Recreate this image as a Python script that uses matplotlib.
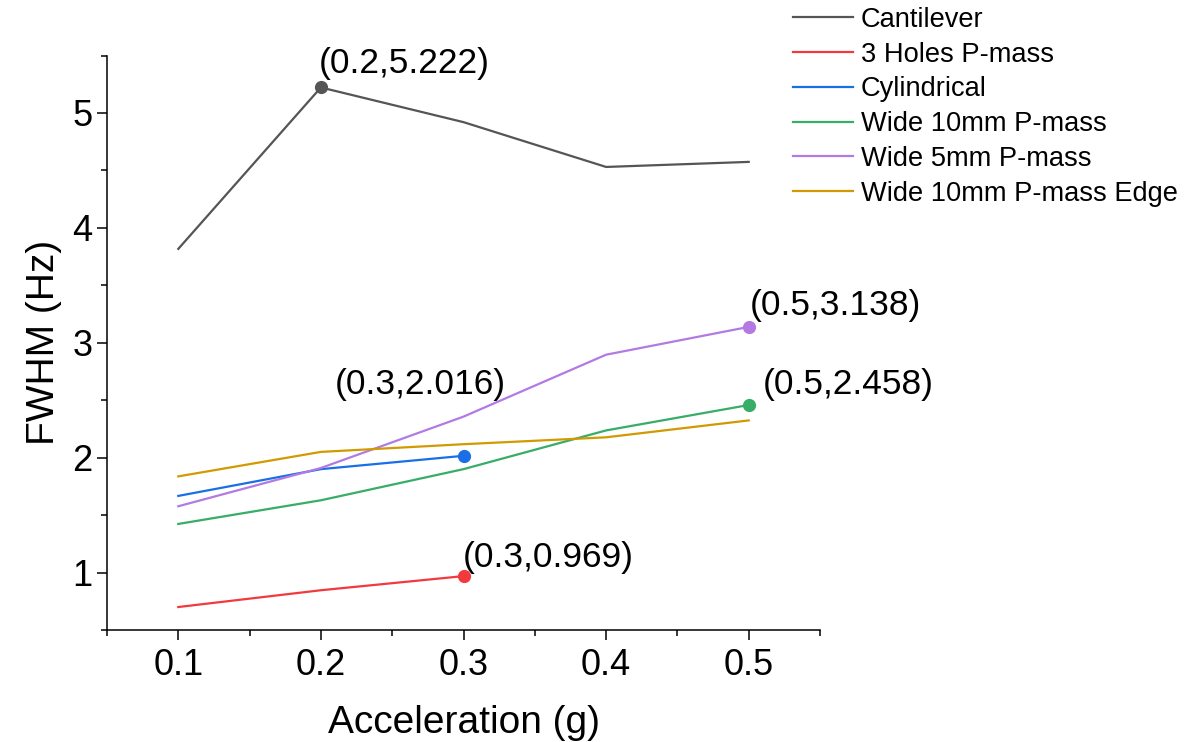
import matplotlib.pyplot as plt

plt.rcParams['font.family'] = ['Liberation Sans', 'DejaVu Sans']

accel = [0.1, 0.2, 0.3, 0.4, 0.5]
accel_short = [0.1, 0.2, 0.3]

cantilever = [3.817, 5.222, 4.92, 4.53, 4.574]
holes3 = [0.70, 0.846, 0.969]
cylindrical = [1.667, 1.90, 2.016]
wide10 = [1.423, 1.629, 1.90, 2.237, 2.458]
wide5 = [1.577, 1.91, 2.357, 2.896, 3.138]
wide10_edge = [1.837, 2.05, 2.117, 2.177, 2.324]

labels = ['Cantilever', '3 Holes P-mass', 'Cylindrical',
          'Wide 10mm P-mass', 'Wide 5mm P-mass', 'Wide 10mm P-mass Edge']
colors = ['#555555', '#f2393d', '#1a6ee6', '#37ad68', '#b27ae2', '#d19a00']

fig = plt.figure(figsize=(11.86, 7.42), dpi=100)
ax = fig.add_axes([107/1186, 1 - 630/742, (820 - 107)/1186, (630 - 55.5)/742])

series = [
    (accel, cantilever),
    (accel_short, holes3),
    (accel_short, cylindrical),
    (accel, wide10),
    (accel, wide5),
    (accel, wide10_edge),
]
for (xs, ys), lab, c in zip(series, labels, colors):
    ax.plot(xs, ys, color=c, lw=1.6, label=lab)

# highlighted points with their coordinates: (series index, point index, dx, dy) in pixels
marks = [
    (0, 1, -2, 14),
    (1, 2, -1, 9),
    (2, 2, -129, 62),
    (3, 4, 14, 11),
    (4, 4, 1, 12),
]
for si, pi, dx, dy in marks:
    xs, ys = series[si]
    x, y = xs[pi], ys[pi]
    ax.plot([x], [y], 'o', color=colors[si], ms=9.5, mec='none')
    ax.annotate('(%g,%g)' % (x, y), (x, y), xytext=(dx, dy),
                textcoords='offset pixels', ha='left', va='baseline',
                fontsize=25.5)

ax.set_xlim(0.05, 0.55)
ax.set_ylim(0.5, 5.5)
ax.set_xticks([0.1, 0.2, 0.3, 0.4, 0.5])
ax.set_xticks([0.05, 0.15, 0.25, 0.35, 0.45, 0.55], minor=True)
ax.set_yticks([1, 2, 3, 4, 5])
ax.set_yticks([0.5, 1.5, 2.5, 3.5, 4.5, 5.5], minor=True)
ax.tick_params(which='major', direction='out', length=7, width=1.1, labelsize=26)
ax.tick_params(axis='x', which='major', pad=6)
ax.tick_params(which='minor', direction='out', length=4.5, width=1.1)

for s in ['top', 'right']:
    ax.spines[s].set_visible(False)
for s in ['left', 'bottom']:
    ax.spines[s].set_linewidth(1.1)

ax.set_xlabel('Acceleration (g)', fontsize=28, labelpad=16)
ax.set_ylabel('FWHM (Hz)', fontsize=28, labelpad=7)

fig.legend(loc='upper left', bbox_to_anchor=(793/1186, 1 - 7/742),
           frameon=False, fontsize=19.6, handlelength=2.2, handletextpad=0.3,
           labelspacing=0.32, borderpad=0, borderaxespad=0)

fig.savefig('out.png', dpi=100)
